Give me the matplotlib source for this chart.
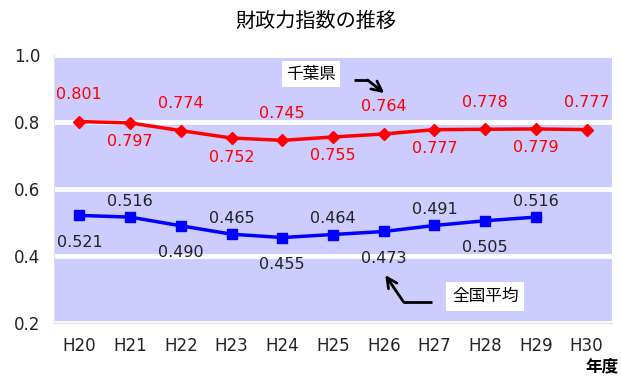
import matplotlib.pyplot as plt

plt.rcParams['font.family'] = ['DejaVu Sans', 'Noto Sans CJK JP']

years = ["H20", "H21", "H22", "H23", "H24", "H25", "H26", "H27", "H28", "H29", "H30"]
chiba = [0.801, 0.797, 0.774, 0.752, 0.745, 0.755, 0.764, 0.777, 0.778, 0.779, 0.777]
national = [0.521, 0.516, 0.490, 0.465, 0.455, 0.464, 0.473, 0.491, 0.505, 0.516]

fig = plt.figure(figsize=(6.21, 3.76), dpi=100)
ax = fig.add_axes([0.087, 0.141, 0.8985, 0.713])
ax.set_facecolor("#ccccff")

x1 = list(range(len(chiba)))
x2 = list(range(len(national)))
ax.plot(x1, chiba, color="#ff0000", lw=2.5, marker="D", ms=6, zorder=3)
ax.plot(x2, national, color="#0000ff", lw=2.5, marker="s", ms=7, zorder=3)

# data labels, alternating above / below
for i, v in enumerate(chiba):
    dy = 27 if i % 2 == 0 else -19
    ax.annotate(f"{v:.3f}", (i, v), xytext=(0, dy), textcoords="offset pixels",
                ha="center", va="center", color="#ff0000", fontsize=11.5)
for i, v in enumerate(national):
    dy = -27 if i % 2 == 0 else 16
    ax.annotate(f"{v:.3f}", (i, v), xytext=(0, dy), textcoords="offset pixels",
                ha="center", va="center", color="#222222", fontsize=11.5)

ax.set_xlim(-0.5, len(years) - 0.5)
ax.set_ylim(0.2, 1.0)
ax.set_xticks(x1)
ax.set_xticklabels(years)
ax.set_yticks([0.2, 0.4, 0.6, 0.8, 1.0])
ax.set_yticklabels(["0.2", "0.4", "0.6", "0.8", "1.0"])
ax.tick_params(length=0, labelsize=12, colors="#222222", pad=10)
ax.yaxis.grid(True, color="white", lw=3.5)
ax.set_axisbelow(True)
for s in ["top", "right"]:
    ax.spines[s].set_visible(False)
for s in ["left", "bottom"]:
    ax.spines[s].set_color("#e0e0e8")

# series callouts
ax.text(4.57, 0.943, "千葉県", ha="center", va="center", fontsize=12,
        bbox=dict(facecolor="white", edgecolor="none", pad=3))
ax.plot([5.41, 5.69], [0.925, 0.925], color="black", lw=2, solid_capstyle="butt")
ax.annotate("", xy=(6.01, 0.886), xytext=(5.68, 0.925),
            arrowprops=dict(arrowstyle="->", lw=2, color="black", mutation_scale=18,
                            shrinkA=0, shrinkB=0))
ax.text(8.0, 0.28, "全国平均", ha="center", va="center", fontsize=12,
        bbox=dict(facecolor="white", edgecolor="none", pad=4))
ax.plot([6.95, 6.38], [0.263, 0.263], color="black", lw=2, solid_capstyle="butt")
ax.annotate("", xy=(6.03, 0.343), xytext=(6.39, 0.263),
            arrowprops=dict(arrowstyle="->", lw=2, color="black", mutation_scale=18,
                            shrinkA=0, shrinkB=0))

fig.text(0.509, 0.942, "財政力指数の推移", ha="center", va="center", fontsize=14.5,
         family="Noto Sans CJK JP")
fig.text(0.97, 0.025, "年度", ha="center", va="center", fontsize=12, fontweight="bold",
         family="Noto Sans CJK JP")

fig.savefig("out.png", dpi=100)
